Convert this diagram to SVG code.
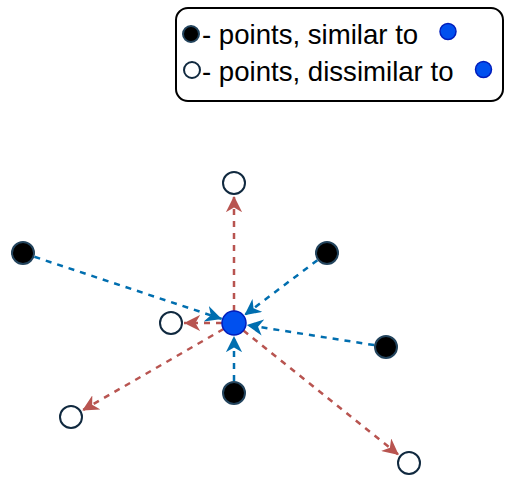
<svg xmlns="http://www.w3.org/2000/svg" width="512" height="481" viewBox="0 0 512 481">
<style>
.sim{fill:#000000;stroke:#23445D;stroke-width:2}
.dis{fill:#FFFFFF;stroke:#10293F;stroke-width:2}
.ctr{fill:#0050EF;stroke:#001DBC;stroke-width:1.5}
.lbl{font-family:"Liberation Sans",Arial,sans-serif;font-size:27.6px;fill:#000000}
.blue{stroke:#006EAF;stroke-width:2.5;stroke-dasharray:6 6;fill:none;marker-end:url(#ab)}
.red{stroke:#B85450;stroke-width:2.5;stroke-dasharray:6 6;fill:none;marker-end:url(#ar)}
</style>
<defs>
<marker id="ab" viewBox="0 0 10 10" refX="10" refY="5" markerWidth="6.5" markerHeight="6.5" markerUnits="strokeWidth" orient="auto">
<path d="M0,0 L10,5 L0,10 L3,5 Z" fill="#006EAF"/>
</marker>
<marker id="ar" viewBox="0 0 10 10" refX="10" refY="5" markerWidth="6.5" markerHeight="6.5" markerUnits="strokeWidth" orient="auto">
<path d="M0,0 L10,5 L0,10 L3,5 Z" fill="#B85450"/>
</marker>
</defs>
<rect width="512" height="481" fill="#FFFFFF"/>
<g id="legend">
<rect x="176" y="8" width="327" height="93" rx="12" ry="12" fill="#FFFFFF" stroke="#000000" stroke-width="2"/>
<circle class="sim" cx="191" cy="34" r="8"/>
<text class="lbl" x="202" y="43.5">- points, similar to</text>
<circle class="ctr" cx="448" cy="31.5" r="8"/>
<circle class="dis" cx="192" cy="70" r="8"/>
<text class="lbl" x="202" y="80.5">- points, dissimilar to</text>
<circle class="ctr" cx="483.5" cy="69.5" r="8"/>
</g>
<g id="connectors">
<line class="blue" x1="34.4" y1="256.8" x2="221.7" y2="318.9"/>
<line class="blue" x1="317.4" y1="260.2" x2="244.4" y2="315.2"/>
<line class="blue" x1="374.1" y1="345.1" x2="246.8" y2="325"/>
<line class="blue" x1="234" y1="381" x2="234" y2="336"/>
<line class="red" x1="234" y1="311" x2="234" y2="196"/>
<line class="red" x1="222" y1="323" x2="184" y2="323"/>
<line class="red" x1="223.6" y1="329" x2="82.3" y2="410.5"/>
<line class="red" x1="243.4" y1="330.5" x2="398.8" y2="454.9"/>
</g>
<g id="node-center"><circle class="ctr" cx="234" cy="323" r="12"/></g>
<g id="node-top"><circle class="dis" cx="234" cy="183" r="11"/></g>
<g id="node-left-black"><circle class="sim" cx="23" cy="253" r="11"/></g>
<g id="node-topright-black"><circle class="sim" cx="327" cy="253" r="11"/></g>
<g id="node-right-black"><circle class="sim" cx="386" cy="347" r="11"/></g>
<g id="node-near-white"><circle class="dis" cx="171" cy="323" r="11"/></g>
<g id="node-bottom-black"><circle class="sim" cx="234" cy="393" r="11"/></g>
<g id="node-bottomleft-white"><circle class="dis" cx="71" cy="417" r="11"/></g>
<g id="node-bottomright-white"><circle class="dis" cx="409" cy="463" r="11"/></g>
</svg>
